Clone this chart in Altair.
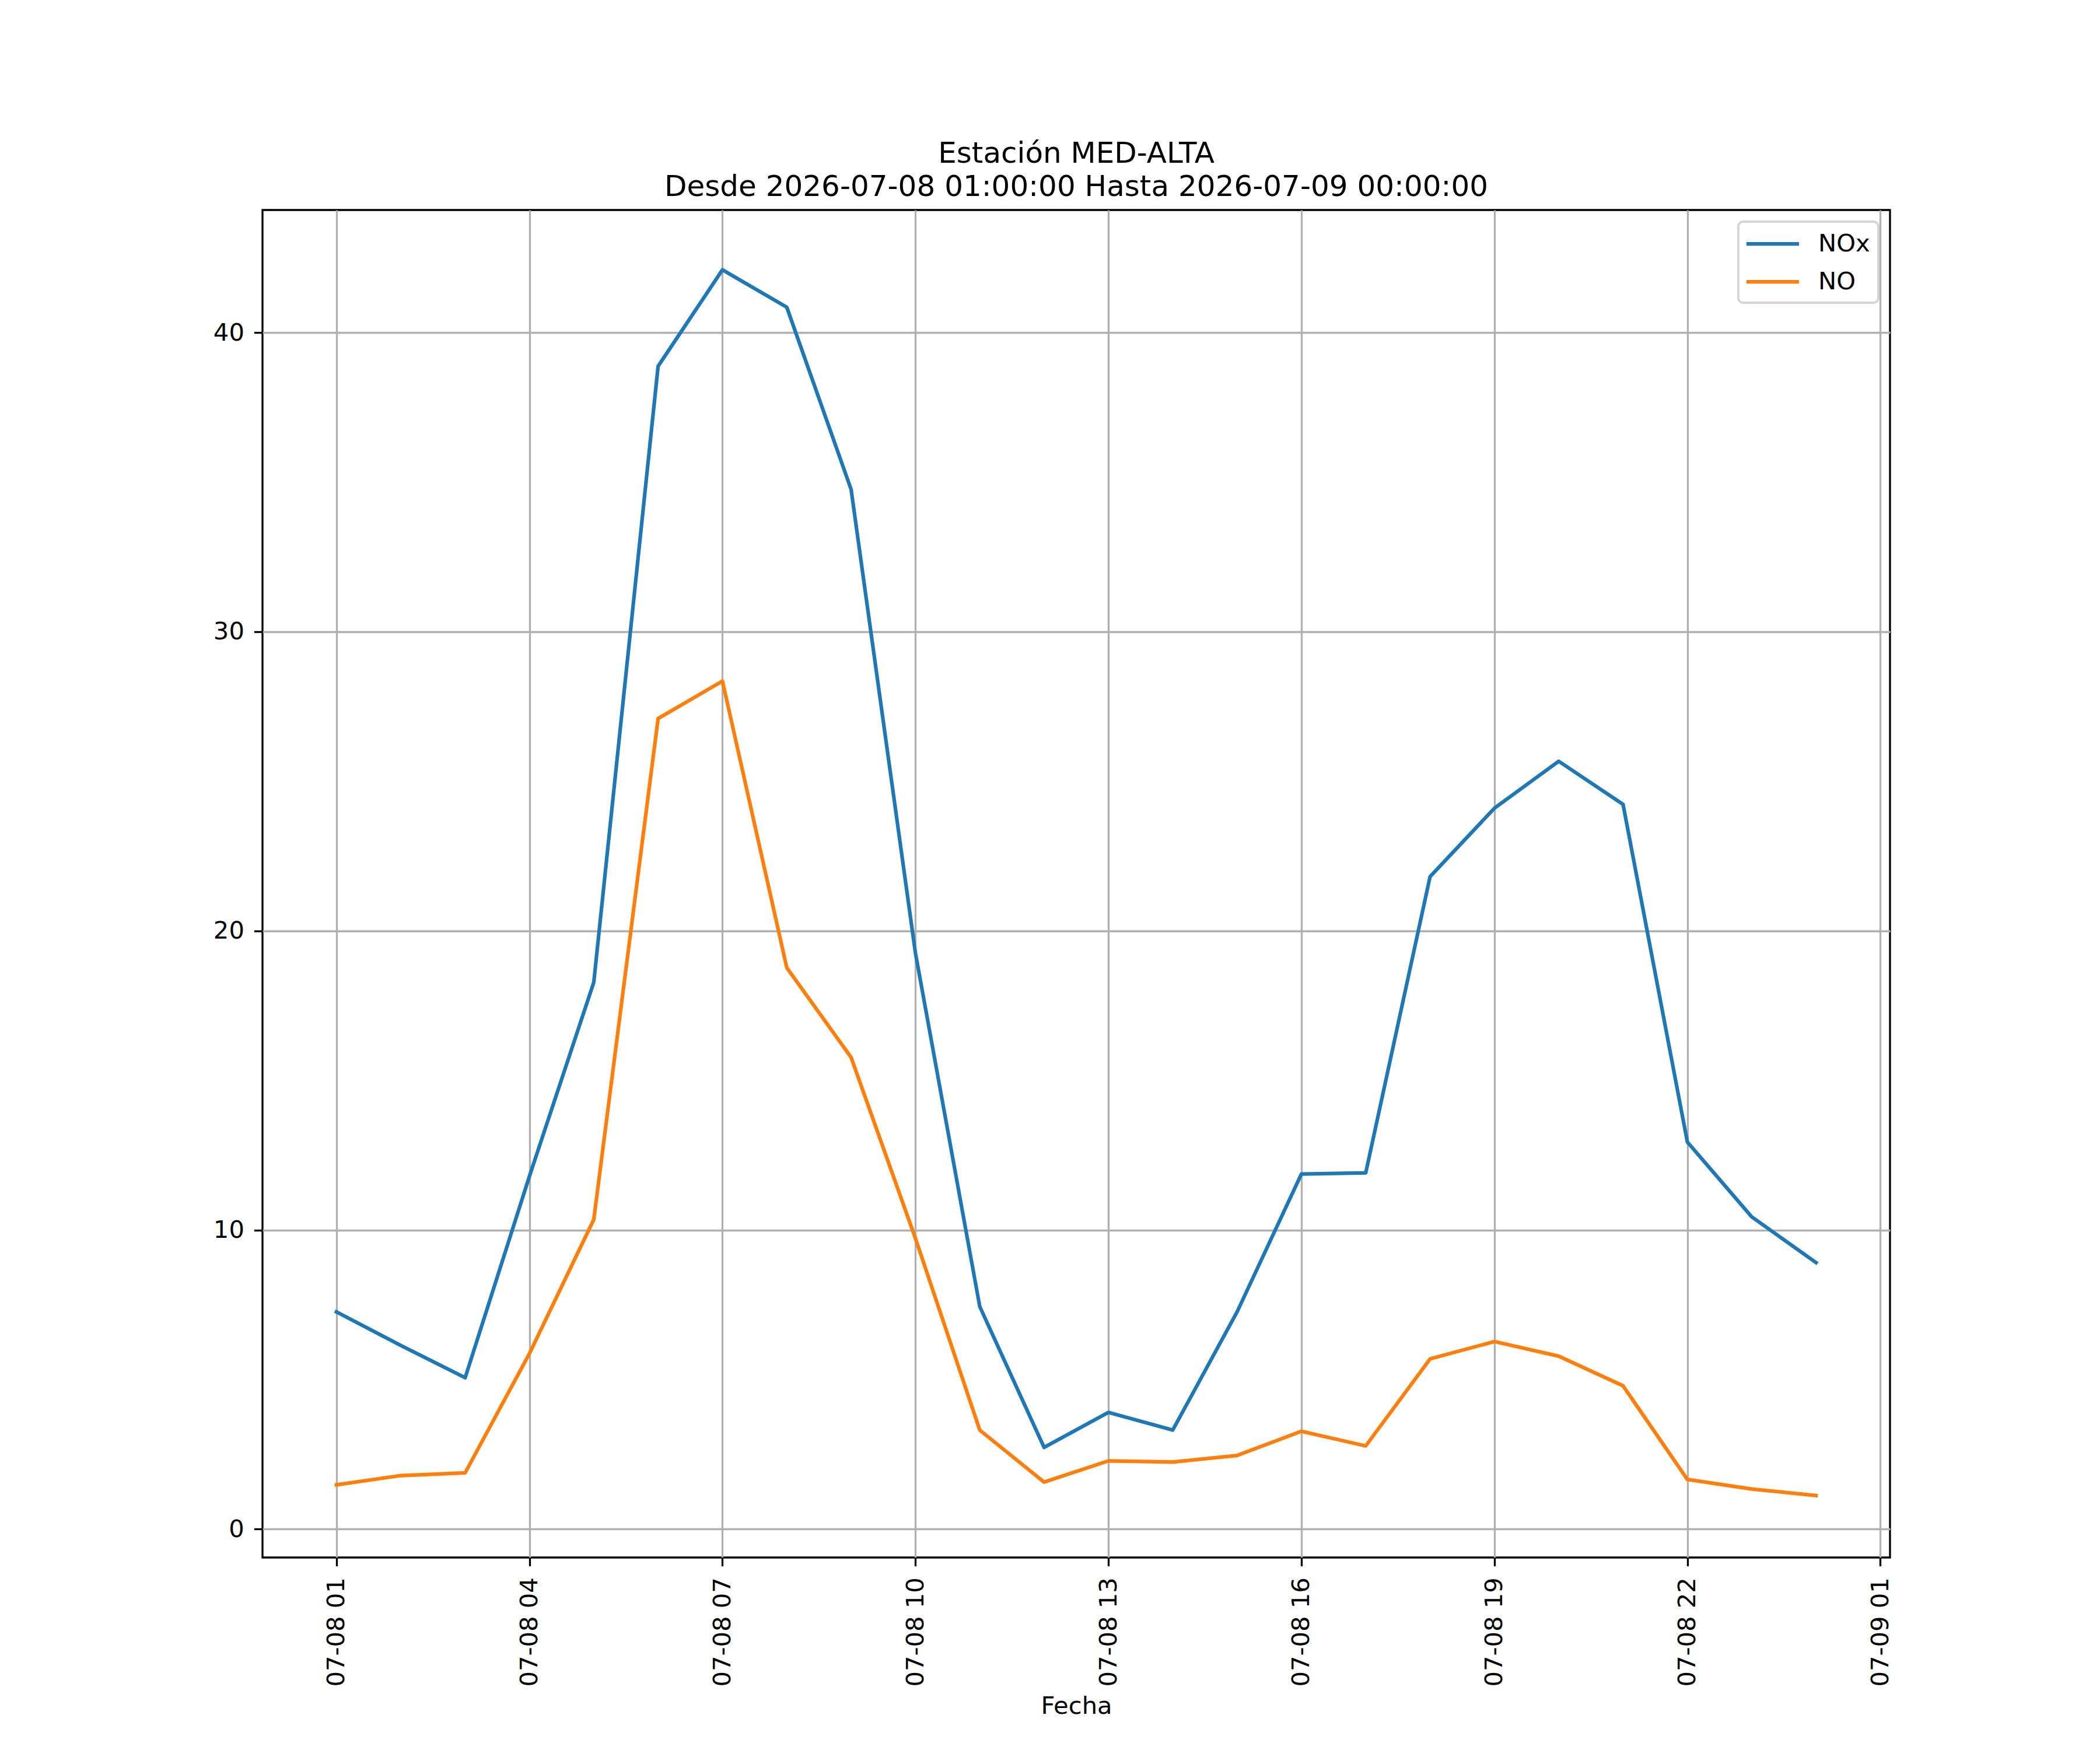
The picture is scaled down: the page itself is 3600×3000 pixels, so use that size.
import altair as alt
import pandas as pd

hours = list(range(1, 25))  # 07-08 01:00 ... 07-09 00:00
nox = [7.26, 6.14, 5.06, 11.8, 18.28, 38.88, 42.1, 40.85, 34.76, 19.26, 7.44, 2.73,
       3.90, 3.31, 7.26, 11.87, 11.91, 21.81, 24.1, 25.67, 24.23, 12.94, 10.44, 8.91]
no = [1.48, 1.79, 1.88, 5.87, 10.35, 27.1, 28.35, 18.77, 15.77, 9.72, 3.31, 1.57,
      2.28, 2.24, 2.46, 3.27, 2.78, 5.69, 6.27, 5.78, 4.79, 1.66, 1.34, 1.12]
series = ["NOx", "NO"]
colors = ["#1f77b4", "#ff7f0e"]
tick_hours = [1, 4, 7, 10, 13, 16, 19, 22, 25]
tick_labels = ["07-08 01", "07-08 04", "07-08 07", "07-08 10", "07-08 13",
               "07-08 16", "07-08 19", "07-08 22", "07-09 01"]
y_ticks = [0, 10, 20, 30, 40]
title_lines = ["Estación MED-ALTA", "Desde 2026-07-08 01:00:00 Hasta 2026-07-09 00:00:00"]

df = pd.concat([
    pd.DataFrame({"hora": hours, "valor": nox, "serie": "NOx"}),
    pd.DataFrame({"hora": hours, "valor": no, "serie": "NO"}),
])

F = "DejaVu Sans"
FS = 41.7
label_expr = "[" + ",".join("'%s'" % t for t in tick_labels) + "][indexof([" + \
    ",".join(str(t) for t in tick_hours) + "], datum.value)]"

chart = alt.Chart(df).mark_line(strokeWidth=6.25, strokeJoin="round", strokeCap="square",
                                clip=True).encode(
    x=alt.X("hora:Q", title="Fecha",
            scale=alt.Scale(domain=[1 - 1.15, 24 + 1.15], nice=False, zero=False),
            axis=alt.Axis(values=tick_hours, labelExpr=label_expr, labelAngle=270,
                          labelAlign="right", labelBaseline="middle", labelLimit=2000,
                          labelFont=F, labelFontSize=FS, labelColor="black",
                          labelPadding=19, tickSize=14.6, tickWidth=3.3, tickColor="black",
                          domain=False, grid=True, gridColor="#b0b0b0", gridWidth=3.3,
                          titleFont=F, titleFontSize=FS, titleFontWeight="normal",
                          titleColor="black", titlePadding=34, labelFlush=False,
                          labelOverlap=False)),
    y=alt.Y("valor:Q", title=None,
            scale=alt.Scale(domain=[-0.95, 44.1], nice=False, zero=False),
            axis=alt.Axis(values=y_ticks, labelFont=F, labelFontSize=FS, labelColor="black",
                          labelPadding=17, tickSize=14.6, tickWidth=3.3, tickColor="black",
                          domain=False, grid=True, gridColor="#b0b0b0", gridWidth=3.3,
                          labelFlush=False, labelLimit=2000)),
    color=alt.Color("serie:N", scale=alt.Scale(domain=series, range=colors),
                    legend=alt.Legend(title=None, orient="none", legendX=2530, legendY=20,
                                      symbolType="M-1.157,0H3.181", symbolSize=1722.25,
                                      symbolStrokeWidth=6.25, labelFont=F,
                                      labelFontSize=FS, labelColor="black",
                                      labelOffset=75, padding=14, rowPadding=19,
                                      fillColor="white", strokeColor="#d6d6d6",
                                      cornerRadius=8)),
).properties(
    width=2790, height=2310,
    title=alt.TitleParams(text=title_lines, font=F, fontSize=50, fontWeight="normal",
                          color="black", anchor="middle", offset=-36, lineHeight=57,
                          baseline="bottom"),
    padding={"left": 442, "top": 352, "right": 352, "bottom": 322},
    autosize=alt.AutoSizeParams(type="none"),
    background="white",
).configure_view(stroke="black", strokeWidth=3.3).configure_legend(strokeWidth=4)

chart.save("out.html", embed_options={"renderer": "svg", "actions": False})
